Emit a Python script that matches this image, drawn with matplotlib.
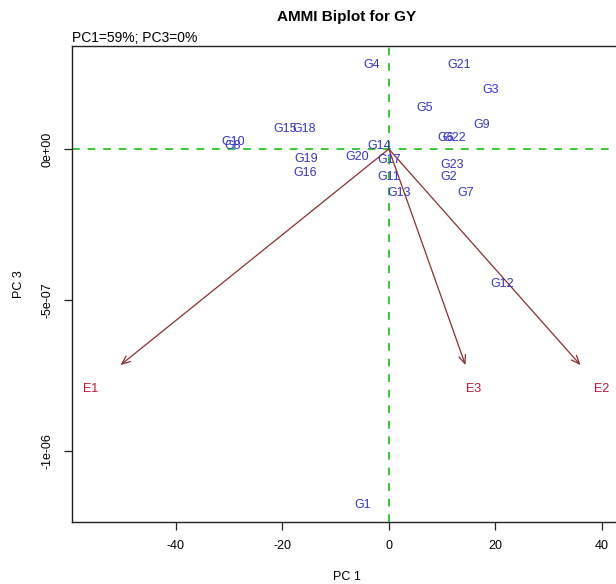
import matplotlib
matplotlib.use("Agg")
import matplotlib.pyplot as plt
import numpy as np

plt.rcParams['font.family'] = ['Liberation Sans', 'DejaVu Sans']

# Genotype scores (PC1, PC3 in units of 1e-7)
genotypes = ["G1", "G2", "G3", "G4", "G5", "G6", "G7", "G8", "G9", "G10",
             "G11", "G12", "G13", "G14", "G15", "G16", "G17", "G18", "G19",
             "G20", "G21", "G22", "G23"]
gen_pc1 = [-4.88, 11.27, 19.15, -3.19, 6.76, 10.70, 14.46, -29.30, 17.46, -29.30,
           0.00, 21.22, 1.88, -1.88, -19.53, -15.77, 0.00, -15.96, -15.59,
           -6.01, 13.15, 12.21, 11.83]
gen_pc3 = [-11.79, -0.93, 1.95, 2.78, 1.36, 0.36, -1.46, 0.10, 0.79, 0.23,
           -0.93, -4.47, -1.46, 0.10, 0.66, -0.79, -0.36, 0.66, -0.33,
           -0.26, 2.78, 0.36, -0.53]

environments = ["E1", "E2", "E3"]
env_pc1 = [-56.0, 40.0, 16.0]
env_pc3 = [-7.95, -7.95, -7.95]

scale = 1e-7
xticks = [-40, -20, 0, 20, 40]
yticks = [0, -5e-7, -1e-6]
ytick_labels = ["0e+00", "-5e-07", "-1e-06"]

W, H = 616, 584
fig = plt.figure(figsize=(W / 100, H / 100), dpi=100)
left, right, top, bottom = 72, 622, 46, 522
ax = fig.add_axes([left / W, 1 - bottom / H, (right - left) / W, (bottom - top) / H])
ax.set_xlim(-59.5, 43.8)
ax.set_ylim(-1.235e-6, 3.41e-7)

green = '#33CC33'
ax.axhline(0, color=green, ls=(0, (4, 4)), lw=1.4, zorder=1)
ax.axvline(0, color=green, ls=(0, (4, 4)), lw=1.4, zorder=1)

arrow_col = '#8B2E2E'
for ex, ey in zip(env_pc1, env_pc3):
    ax.annotate("", xy=(0.9 * ex, 0.9 * ey * scale), xytext=(0, 0),
                arrowprops=dict(arrowstyle='->,head_length=0.6,head_width=0.25',
                                color=arrow_col, lw=0.9, shrinkA=0, shrinkB=0),
                zorder=2)

for name, x, y in zip(genotypes, gen_pc1, gen_pc3):
    ax.text(x, y * scale, name, color='#3535CC', fontsize=9, ha='center', va='center', zorder=3)
for name, x, y in zip(environments, env_pc1, env_pc3):
    ax.text(x, y * scale, name, color='#CC1133', fontsize=9, ha='center', va='center', zorder=3)

ax.set_xticks(xticks)
ax.set_xticklabels([str(t) for t in xticks], fontsize=9)
ax.set_yticks(yticks)
ax.set_yticklabels(ytick_labels, fontsize=9, rotation=90, va='center')
ax.tick_params(axis='both', length=6, width=0.9, direction='out', color='#222222')
ax.tick_params(axis='x', pad=7)
ax.tick_params(axis='y', pad=7)

for s in ax.spines.values():
    s.set_linewidth(1.0)
    s.set_color('#222222')

ax.set_xlabel("PC 1", fontsize=9, labelpad=14)
ax.set_ylabel("PC 3", fontsize=9, labelpad=12)

fig.text((left + right) / 2 / W, 1 - 17 / H, "AMMI Biplot for GY", fontsize=11,
         fontweight='bold', ha='center', va='center')
fig.text(left / W, 1 - 42 / H, "PC1=59%; PC3=0%", fontsize=10, ha='left', va='baseline')

fig.savefig("out.png", dpi=100)
